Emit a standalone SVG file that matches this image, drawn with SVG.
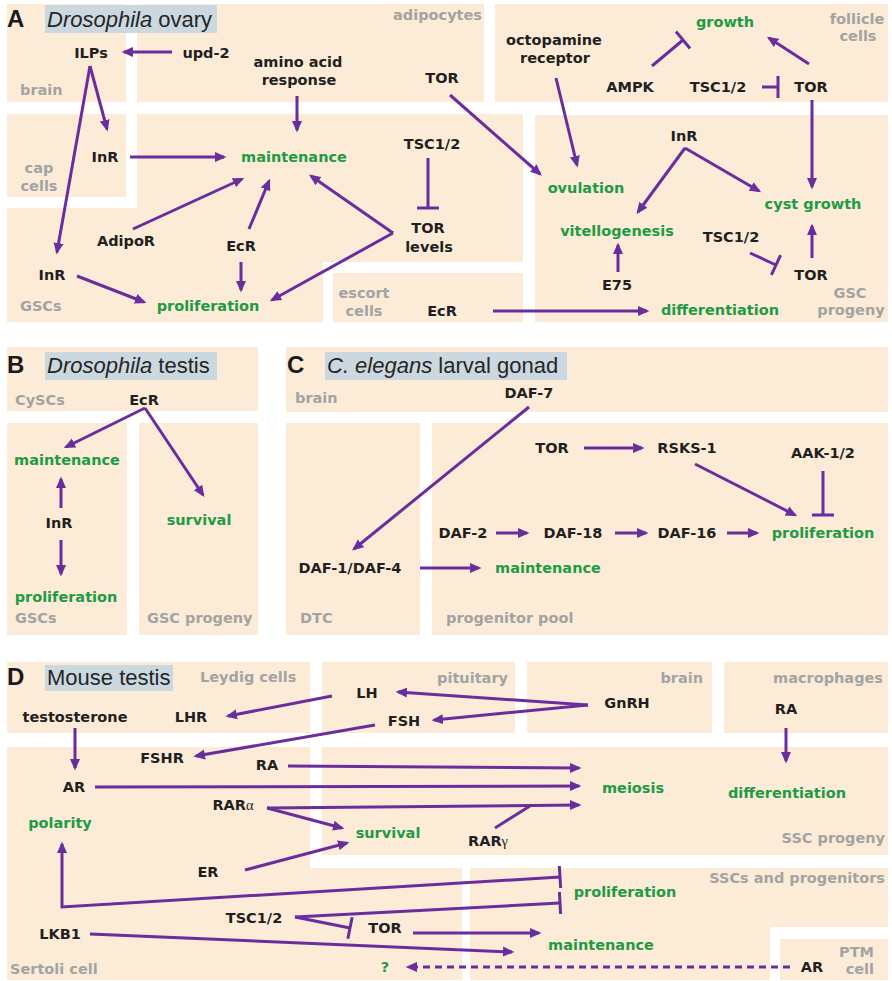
<svg xmlns="http://www.w3.org/2000/svg" width="892" height="981" viewBox="0 0 892 981">
<style>
.bg{fill:#fcecd7}
.tb{fill:#cbd8df}
.n{font-family:"DejaVu Sans",Verdana,sans-serif;font-weight:bold;font-size:14.5px;fill:#231f20;text-anchor:middle}
.g{fill:#1f9a45}
.r{font-family:"DejaVu Sans",Verdana,sans-serif;font-weight:bold;font-size:14.5px;fill:#a3a3a3}
.s{text-anchor:start}
.e{text-anchor:end}
.m{text-anchor:middle}
.pl{font-family:"Liberation Sans",Arial,sans-serif;font-weight:bold;font-size:24px;fill:#1a1a1a}
.tt{font-family:"Liberation Sans",Arial,sans-serif;font-size:22px;fill:#262626}
.ed path{fill:none;stroke:#6a2d9e;stroke-width:3}
.ar{marker-end:url(#ah)}
.in{marker-end:url(#bar)}
.gk{font-family:"Liberation Serif",serif;font-weight:normal}
</style>
<defs>
<marker id="ah" markerUnits="userSpaceOnUse" markerWidth="12" markerHeight="11" refX="9" refY="5.5" orient="auto"><path d="M0,0.5 L11.5,5.5 L0,10.5 z" fill="#6a2d9e"/></marker>
<marker id="bar" markerUnits="userSpaceOnUse" markerWidth="4" markerHeight="24" refX="2" refY="12" orient="auto"><path d="M0.5,1 h3 v22 h-3 z" fill="#6a2d9e"/></marker>
</defs>
<g id="regions">
<rect class="bg" x="7" y="4" width="119" height="98"/>
<rect class="bg" x="137" y="4" width="347" height="98"/>
<rect class="bg" x="495" y="4" width="393" height="98"/>
<rect class="bg" x="7" y="114" width="119" height="83"/>
<rect class="bg" x="137" y="114" width="386" height="148"/>
<rect class="bg" x="7" y="208" width="316" height="114"/>
<rect class="bg" x="333" y="273" width="190" height="49"/>
<rect class="bg" x="535" y="115" width="353" height="207"/>
<rect class="bg" x="7" y="347" width="251" height="64"/>
<rect class="bg" x="7" y="423" width="120" height="212"/>
<rect class="bg" x="139" y="423" width="119" height="212"/>
<rect class="bg" x="286" y="347" width="602" height="65"/>
<rect class="bg" x="286" y="423" width="134" height="212"/>
<rect class="bg" x="432" y="423" width="456" height="212"/>
<rect class="bg" x="7" y="662" width="303" height="71"/>
<rect class="bg" x="322" y="662" width="193" height="71"/>
<rect class="bg" x="527" y="662" width="185" height="71"/>
<rect class="bg" x="724" y="662" width="164" height="71"/>
<path class="bg" d="M7,747 H310 V868 H462 V980 H7 Z"/>
<rect class="bg" x="322" y="747" width="566" height="108"/>
<path class="bg" d="M470,868 H888 V927 H770 V980 H470 Z"/>
<rect class="bg" x="780" y="939" width="108" height="41"/>
<rect class="tb" x="45" y="5" width="172" height="28"/>
<rect class="tb" x="45" y="352" width="172" height="28"/>
<rect class="tb" x="325" y="352" width="242" height="28"/>
<rect class="tb" x="45" y="665" width="128" height="26"/>
<text class="pl" x="7" y="27">A</text>
<text class="tt" x="47" y="27"><tspan font-style="italic">Drosophila</tspan> ovary</text>
<text class="pl" x="7" y="373">B</text>
<text class="tt" x="47" y="373"><tspan font-style="italic">Drosophila</tspan> testis</text>
<text class="pl" x="287" y="373">C</text>
<text class="tt" x="327" y="373"><tspan font-style="italic">C. elegans</tspan> larval gonad</text>
<text class="pl" x="7" y="685">D</text>
<text class="tt" x="47" y="685">Mouse testis</text>
<text class="r s" x="20" y="95">brain</text>
<text class="r e" x="482" y="20">adipocytes</text>
<text class="r m" x="857" y="24">follicle</text>
<text class="r m" x="858" y="41">cells</text>
<text class="r m" x="39" y="173">cap</text>
<text class="r m" x="39" y="191">cells</text>
<text class="r s" x="20" y="311">GSCs</text>
<text class="r m" x="364" y="298">escort</text>
<text class="r m" x="364" y="316">cells</text>
<text class="r m" x="850" y="298">GSC</text>
<text class="r m" x="851" y="315">progeny</text>
<text class="r s" x="15" y="405">CySCs</text>
<text class="r s" x="15" y="623">GSCs</text>
<text class="r s" x="147" y="623">GSC progeny</text>
<text class="r s" x="295" y="403">brain</text>
<text class="r s" x="300" y="623">DTC</text>
<text class="r s" x="446" y="623">progenitor pool</text>
<text class="r s" x="200" y="682">Leydig cells</text>
<text class="r e" x="508" y="683">pituitary</text>
<text class="r e" x="703" y="683">brain</text>
<text class="r e" x="883" y="683">macrophages</text>
<text class="r e" x="885" y="843">SSC progeny</text>
<text class="r e" x="885" y="883">SSCs and progenitors</text>
<text class="r e" x="874" y="957">PTM</text>
<text class="r e" x="874" y="974">cell</text>
<text class="r s" x="10" y="974">Sertoli cell</text>
</g>
<g id="connectors" class="ed">
<path class="ar" d="M172,52 L124,52"/>
<path class="ar" d="M297,96 L297,130"/>
<path class="ar" d="M90,66 L107,129"/>
<path class="ar" d="M90,66 L57,252"/>
<path class="ar" d="M130,157 L224,157"/>
<path class="ar" d="M133,229 L242,179"/>
<path class="ar" d="M249,229 L269,181"/>
<path class="ar" d="M241,262 L241,290"/>
<path class="ar" d="M77,276 L144,302"/>
<path class="in" d="M428,158 L428,208"/>
<path class="ar" d="M393,233 L311,176"/>
<path class="ar" d="M393,233 L272,300"/>
<path class="ar" d="M450,95 L540,174"/>
<path class="ar" d="M556,78 L577,165"/>
<path class="in" d="M652,66 L683,40"/>
<path class="in" d="M762,87 L778,87"/>
<path class="ar" d="M809,64 L769,38"/>
<path class="ar" d="M812,100 L812,187"/>
<path class="ar" d="M685,148 L638,212"/>
<path class="ar" d="M685,148 L759,191"/>
<path class="in" d="M750,253 L776,265"/>
<path class="ar" d="M812,258 L812,226"/>
<path class="ar" d="M618,272 L618,245"/>
<path class="ar" d="M493,311 L647,311"/>
<path class="ar" d="M145,408 L66,447"/>
<path class="ar" d="M145,408 L203,495"/>
<path class="ar" d="M61,508 L61,479"/>
<path class="ar" d="M61,540 L61,574"/>
<path class="ar" d="M529,407 L354,549"/>
<path class="ar" d="M584,448 L642,448"/>
<path class="in" d="M823,471 L823,515"/>
<path class="ar" d="M695,464 L795,515"/>
<path class="ar" d="M496,533 L527,533"/>
<path class="ar" d="M615,533 L646,533"/>
<path class="ar" d="M727,533 L757,533"/>
<path class="ar" d="M420,568 L479,568"/>
<path class="ar" d="M588,705 L398,692"/>
<path class="ar" d="M588,705 L434,720"/>
<path class="ar" d="M332,696 L228,716"/>
<path class="ar" d="M375,725 L196,756"/>
<path class="ar" d="M75,728 L75,768"/>
<path class="ar" d="M786,728 L786,761"/>
<path class="ar" d="M288,766 L579,768"/>
<path class="ar" d="M95,787 L579,786"/>
<path class="ar" d="M267,808 L579,805"/>
<path class="ar" d="M267,808 L342,828"/>
<path d="M495,828 L530,806"/>
<path class="ar" d="M245,870 L347,843"/>
<path class="ar" d="M560,877 L62,907 L62,844" marker-start="url(#bar)"/>
<path class="in" d="M295,917 L560,903"/>
<path class="in" d="M295,917 L350,928"/>
<path class="ar" d="M413,933 L539,933"/>
<path class="ar" d="M90,934 L512,952"/>
<path class="ar" d="M790,967 L408,967" stroke-dasharray="7,5"/>
</g>
<g id="ILPs"><text class="n" x="91" y="58">ILPs</text></g>
<g id="upd2"><text class="n" x="206" y="58">upd-2</text></g>
<g id="amino"><text class="n" x="298" y="67">amino acid</text><text class="n" x="299" y="85">response</text></g>
<g id="TOR_adipo"><text class="n" x="442" y="83">TOR</text></g>
<g id="octopamine"><text class="n" x="554" y="45">octopamine</text><text class="n" x="555" y="63">receptor</text></g>
<g id="growth"><text class="n g" x="725" y="27">growth</text></g>
<g id="AMPK"><text class="n" x="630" y="92">AMPK</text></g>
<g id="TSC_fol"><text class="n" x="718" y="92">TSC1/2</text></g>
<g id="TOR_fol"><text class="n" x="811" y="92">TOR</text></g>
<g id="InR_prog"><text class="n" x="684" y="141">InR</text></g>
<g id="ovulation"><text class="n g" x="586" y="193">ovulation</text></g>
<g id="cystgrowth"><text class="n g" x="813" y="209">cyst growth</text></g>
<g id="vitellogenesis"><text class="n g" x="617" y="236">vitellogenesis</text></g>
<g id="TSC_prog"><text class="n" x="731" y="242">TSC1/2</text></g>
<g id="TOR_prog"><text class="n" x="811" y="280">TOR</text></g>
<g id="E75"><text class="n" x="617" y="290">E75</text></g>
<g id="diffA"><text class="n g" x="720" y="315">differentiation</text></g>
<g id="EcR_escort"><text class="n" x="442" y="316">EcR</text></g>
<g id="TSC_main"><text class="n" x="432" y="149">TSC1/2</text></g>
<g id="TORlevels"><text class="n" x="428" y="233">TOR</text><text class="n" x="429" y="252">levels</text></g>
<g id="maintA"><text class="n g" x="294" y="162">maintenance</text></g>
<g id="InR_cap"><text class="n" x="105" y="162">InR</text></g>
<g id="AdipoR"><text class="n" x="126" y="246">AdipoR</text></g>
<g id="EcR_A"><text class="n" x="241" y="251">EcR</text></g>
<g id="InR_GSC"><text class="n" x="52" y="280">InR</text></g>
<g id="prolA"><text class="n g" x="208" y="311">proliferation</text></g>
<g id="EcR_B"><text class="n" x="144" y="405">EcR</text></g>
<g id="maintB"><text class="n g" x="67" y="465">maintenance</text></g>
<g id="InR_B"><text class="n" x="59" y="528">InR</text></g>
<g id="survivalB"><text class="n g" x="199" y="525">survival</text></g>
<g id="prolB"><text class="n g" x="66" y="602">proliferation</text></g>
<g id="DAF7"><text class="n" x="529" y="398">DAF-7</text></g>
<g id="TOR_C"><text class="n" x="552" y="453">TOR</text></g>
<g id="RSKS1"><text class="n" x="687" y="453">RSKS-1</text></g>
<g id="AAK"><text class="n" x="823" y="458">AAK-1/2</text></g>
<g id="DAF2"><text class="n" x="463" y="538">DAF-2</text></g>
<g id="DAF18"><text class="n" x="573" y="538">DAF-18</text></g>
<g id="DAF16"><text class="n" x="687" y="538">DAF-16</text></g>
<g id="prolC"><text class="n g" x="823" y="538">proliferation</text></g>
<g id="DAF1"><text class="n" x="350" y="573">DAF-1/DAF-4</text></g>
<g id="maintC"><text class="n g" x="548" y="573">maintenance</text></g>
<g id="testosterone"><text class="n" x="75" y="722">testosterone</text></g>
<g id="LHR"><text class="n" x="191" y="722">LHR</text></g>
<g id="LH"><text class="n" x="367" y="698">LH</text></g>
<g id="FSH"><text class="n" x="404" y="726">FSH</text></g>
<g id="GnRH"><text class="n" x="627" y="708">GnRH</text></g>
<g id="RA_mac"><text class="n" x="786" y="714">RA</text></g>
<g id="FSHR"><text class="n" x="162" y="763">FSHR</text></g>
<g id="RA_ser"><text class="n" x="267" y="770">RA</text></g>
<g id="AR_ser"><text class="n" x="74" y="792">AR</text></g>
<g id="meiosis"><text class="n g" x="633" y="793">meiosis</text></g>
<g id="diffD"><text class="n g" x="787" y="798">differentiation</text></g>
<g id="RARa"><text class="n" x="233" y="810">RAR<tspan class="gk">α</tspan></text></g>
<g id="polarity"><text class="n g" x="60" y="828">polarity</text></g>
<g id="survivalD"><text class="n g" x="388" y="838">survival</text></g>
<g id="RARg"><text class="n" x="488" y="846">RAR<tspan class="gk">γ</tspan></text></g>
<g id="ER"><text class="n" x="208" y="877">ER</text></g>
<g id="prolD"><text class="n g" x="625" y="897">proliferation</text></g>
<g id="TSC_D"><text class="n" x="254" y="923">TSC1/2</text></g>
<g id="TOR_D"><text class="n" x="385" y="933">TOR</text></g>
<g id="LKB1"><text class="n" x="60" y="939">LKB1</text></g>
<g id="maintD"><text class="n g" x="601" y="950">maintenance</text></g>
<g id="AR_ptm"><text class="n" x="812" y="972">AR</text></g>
<g id="unknown"><text class="n g" x="385" y="972">?</text></g>
</svg>
